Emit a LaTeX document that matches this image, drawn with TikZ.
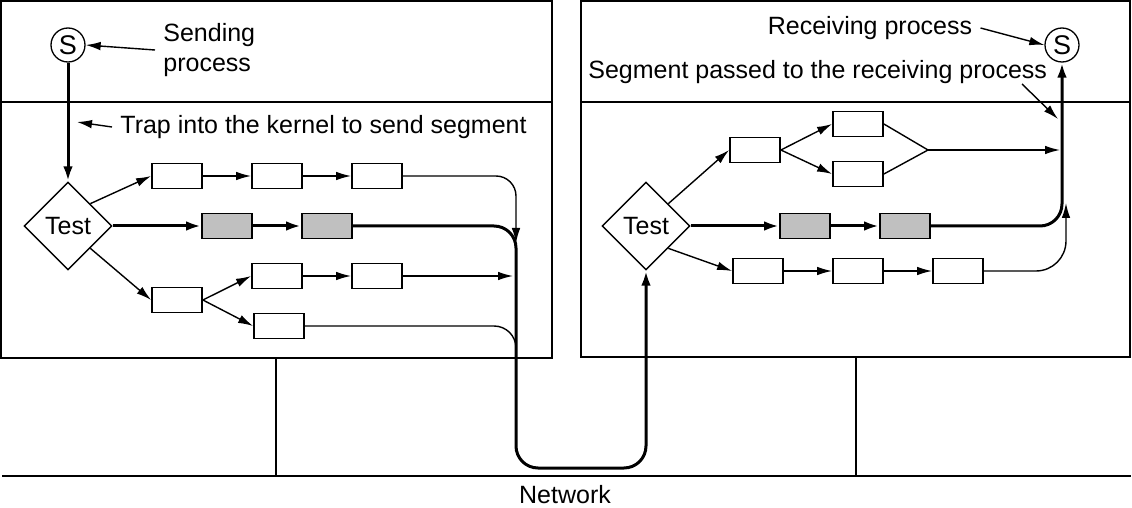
\documentclass[tikz,border=0pt]{standalone}
\usepackage{fontspec}
\setmainfont{Liberation Sans}
\usetikzlibrary{arrows.meta,shapes.geometric}
\definecolor{boxgray}{RGB}{192,192,192}
\begin{document}
\begin{tikzpicture}[x=0.5pt,y=-0.5pt,
  font=\fontsize{12.5}{15}\selectfont,
  panel/.style={draw,line width=0.75pt},
  proc/.style={circle,draw,line width=0.65pt,minimum size=17pt,inner sep=0pt,font=\fontsize{13.5}{15}\selectfont},
  testnode/.style={diamond,draw,line width=0.7pt,minimum width=44pt,minimum height=44pt,inner sep=0pt},
  seg/.style={draw,line width=0.9pt,minimum width=25pt,minimum height=12.5pt,inner sep=0pt},
  hot/.style={seg,fill=boxgray},
  thinline/.style={line width=0.7pt},
  tarr/.style={thinline,-{Latex[length=7.5pt,width=4.3pt]}},
  hotline/.style={line width=1.5pt},
  harr/.style={hotline,-{Latex[length=7.5pt,width=4.8pt]}},
  lbl/.style={inner sep=4pt}
]
\useasboundingbox (0,0) rectangle (1132,508);

% panels and network
\draw[panel] (1,1) rectangle (552,358);
\draw[panel] (1,102) -- (552,102);
\draw[panel] (581,1) rectangle (1130,357);
\draw[panel] (581,102) -- (1130,102);
\draw[panel] (2,476) -- (1131,476);
\draw[panel] (276,358) -- (276,476);
\draw[panel] (856,357) -- (856,476);
\node[inner sep=1pt] (net) at (565,495) {Network};

% left host
\node[proc] (ls) at (68,45) {S};
\node[testnode] (lt) at (68,226) {Test};
\node[seg] (l1) at (177,176) {};
\node[seg] (l2) at (277,176) {};
\node[seg] (l3) at (377,176) {};
\node[hot] (lg1) at (227,226) {};
\node[hot] (lg2) at (327,226) {};
\node[seg] (l4) at (177,300) {};
\node[seg] (l5) at (277,276) {};
\node[seg] (l6) at (377,276) {};
\node[seg] (l7) at (279,326) {};

\node[lbl,anchor=west,align=left] (sendtxt) at (155,50) {Sending\\process};
\node[lbl,anchor=west] (traptxt) at (112,127) {Trap into the kernel to send segment};
\coordinate (trapend) at (77,122);

% right host
\node[proc] (rs) at (1062,45) {S};
\node[testnode] (rt) at (646,226) {Test};
\node[seg] (r1) at (755,150) {};
\node[seg] (r2) at (858,124) {};
\node[seg] (r3) at (858,174) {};
\node[hot] (rg1) at (805,226) {};
\node[hot] (rg2) at (905,226) {};
\node[seg] (r4) at (758,271) {};
\node[seg] (r5) at (858,271) {};
\node[seg] (r6) at (958,271) {};
\coordinate (rj) at (928,150);

\node[lbl] (rectxt) at (870,28) {Receiving process};
\node[lbl,anchor=west] (segtxt) at (580,72) {Segment passed to the receiving process};
\coordinate (segtail) at (1022,84);
\coordinate (seghead) at (1058,119);

% free ends
\coordinate (lm1) at (516,243);
\coordinate (lm2) at (513,276);
\coordinate (lm3) at (516,380);
\coordinate (lbot) at (516,468);
\coordinate (rm1) at (1060,150);
\coordinate (rm2) at (1066,203);

% labels' arrows
\draw[tarr] (sendtxt.west) -- (ls.east);
\draw[tarr] (traptxt.west) -- (trapend);
\draw[tarr] (rectxt.east) -- (rs.west);
\draw[tarr] (segtail) -- (seghead);

% left thin flows
\draw[tarr] (lt.north east) -- (l1.west);
\draw[tarr] (l1.east) -- (l2.west);
\draw[tarr] (l2.east) -- (l3.west);
\draw[tarr,rounded corners=10pt] (l3.east) -| (lm1);
\draw[tarr] (lt.south east) -- (l4.west);
\draw[tarr] (l4.east) -- (l5.west);
\draw[tarr] (l4.east) -- (l7.west);
\draw[tarr] (l5.east) -- (l6.west);
\draw[tarr] (l6.east) -- (lm2);
\draw[thinline,rounded corners=11pt] (l7.east) -| (lm3);

% right thin flows
\draw[tarr] (rt.north east) -- (r1.west);
\draw[tarr] (r1.east) -- (r2.west);
\draw[tarr] (r1.east) -- (r3.west);
\draw[thinline] (r2.east) -- (rj) -- (r3.east);
\draw[tarr] (rj) -- (rm1);
\draw[tarr] (rt.south east) -- (r4.west);
\draw[tarr] (r4.east) -- (r5.west);
\draw[tarr] (r5.east) -- (r6.west);
\draw[tarr,rounded corners=15pt] (r6.east) -| (rm2);

% hot path
\draw[harr] (ls.south) -- (lt.north);
\draw[harr] (lt.east) -- (lg1.west);
\draw[harr] (lg1.east) -- (lg2.west);
\draw[harr,rounded corners=11pt] (lg2.east) -| (lbot) -| (rt.south);
\draw[harr] (rt.east) -- (rg1.west);
\draw[harr] (rg1.east) -- (rg2.west);
\draw[harr,rounded corners=11pt] (rg2.east) -| (rs.south);
\end{tikzpicture}
\end{document}
